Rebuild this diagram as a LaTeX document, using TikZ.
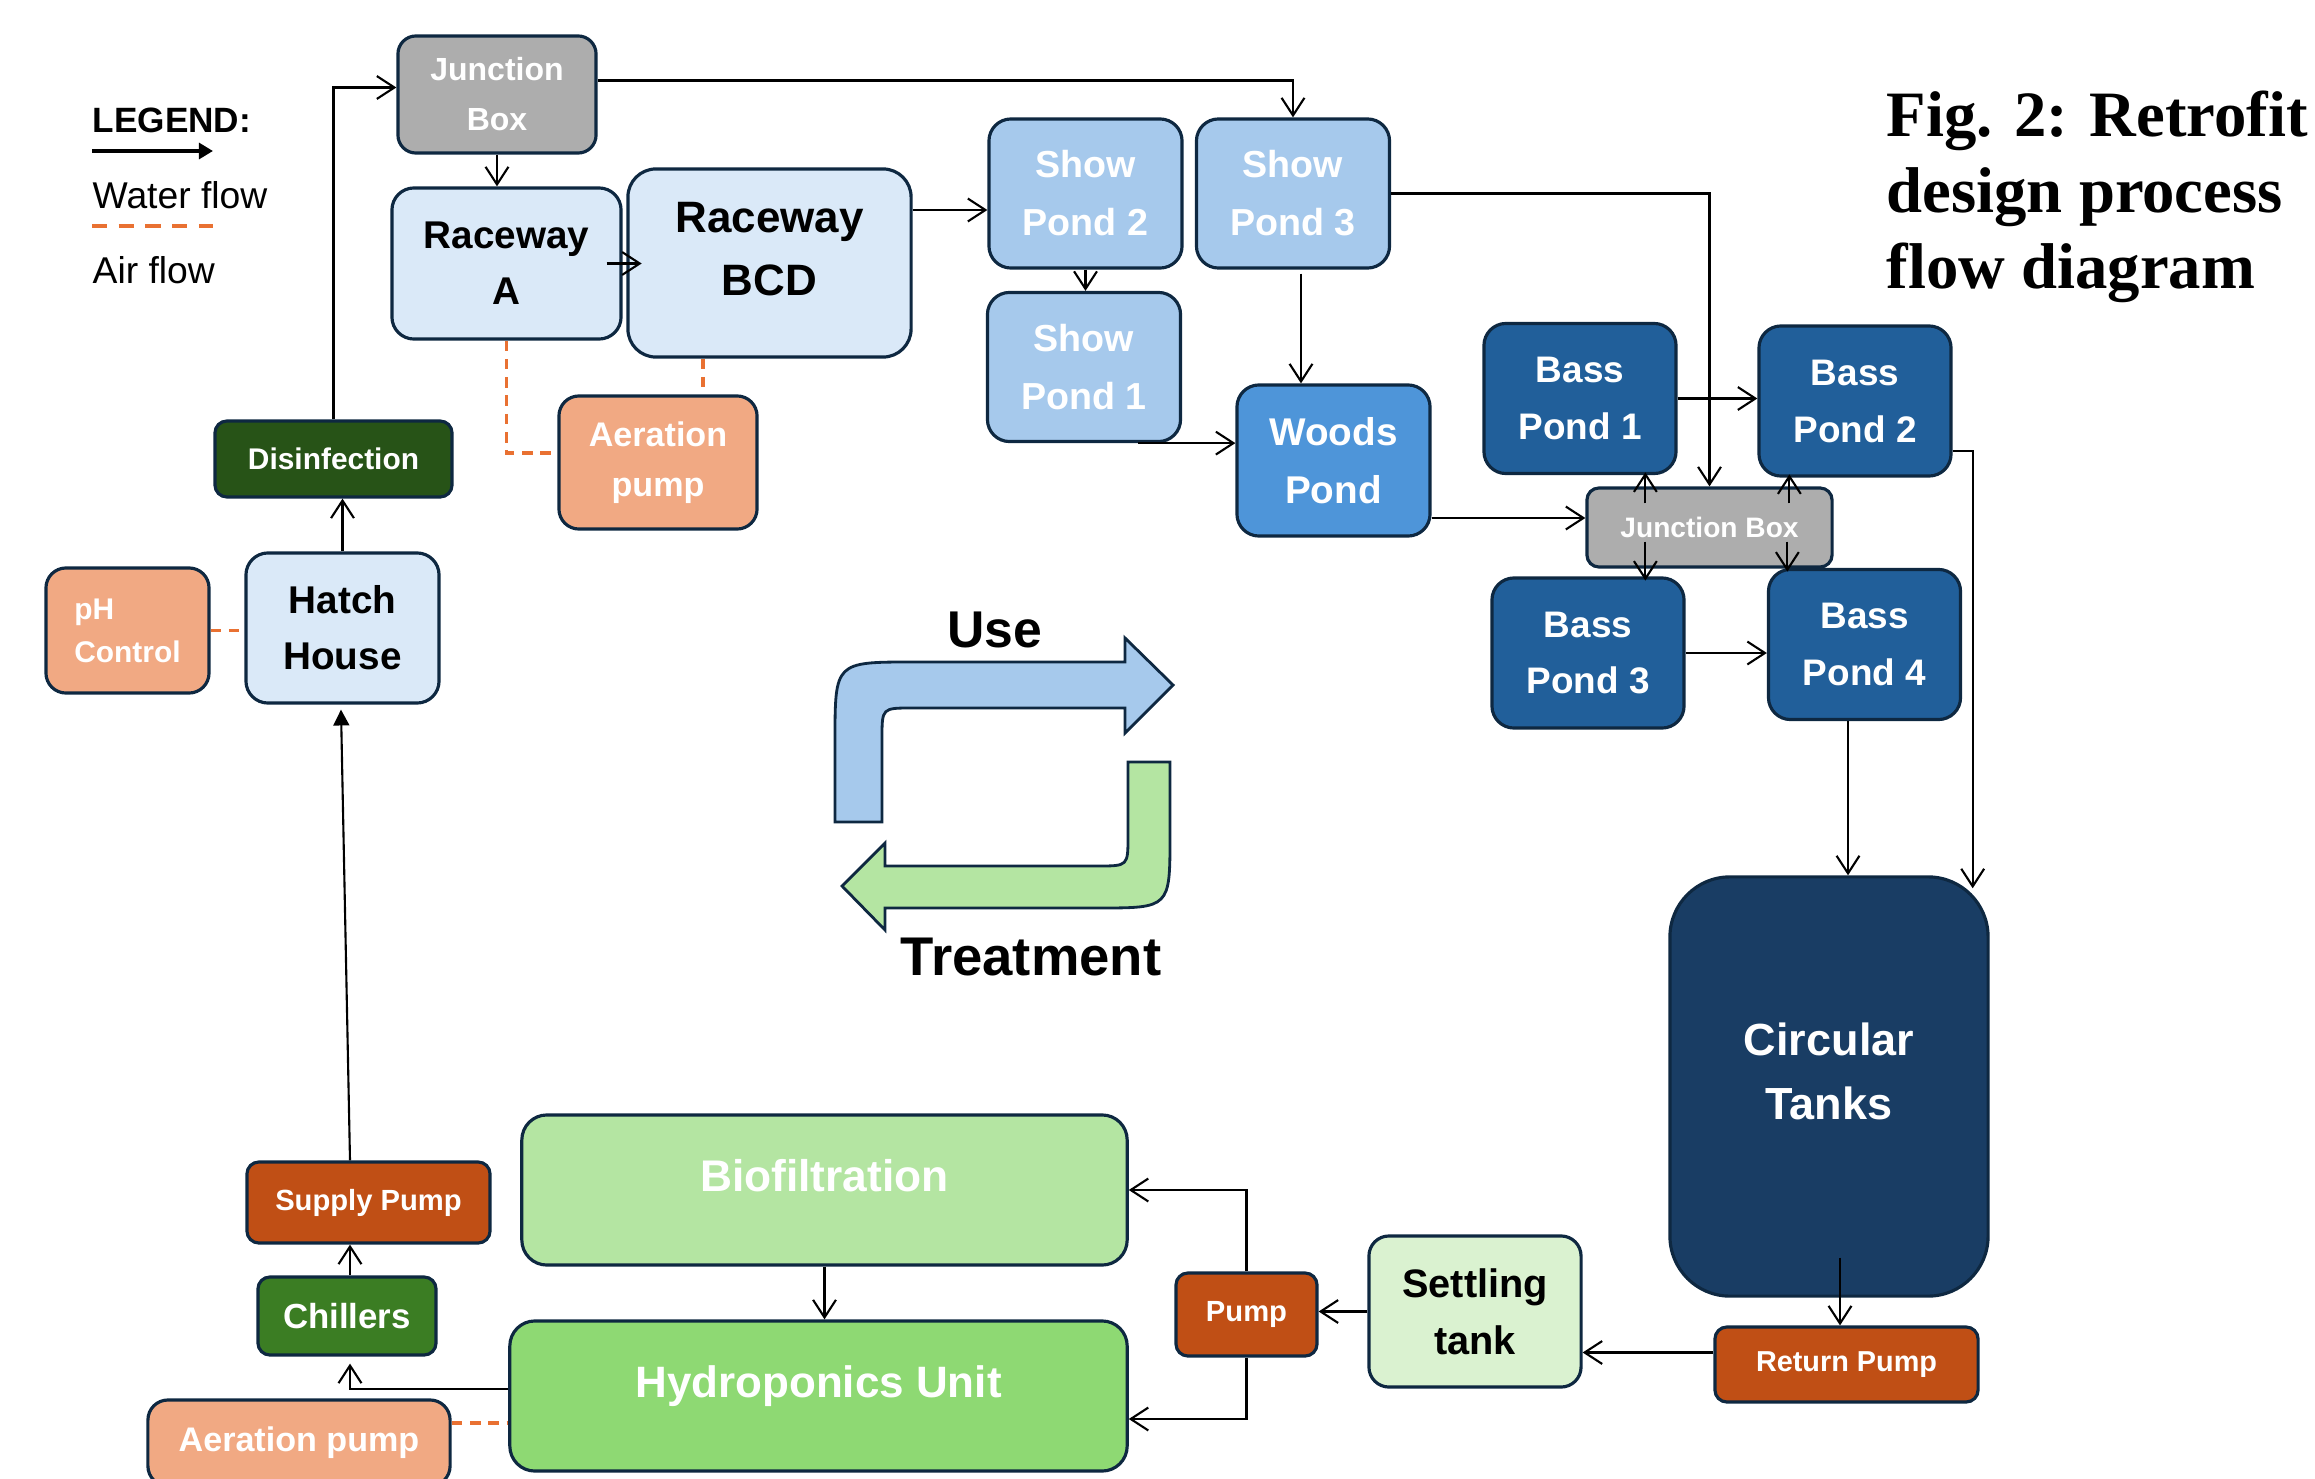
\documentclass[tikz,border=0pt]{standalone}
\usepackage{fontspec}
\setmainfont{Liberation Sans}
\newfontfamily\titlefont{Liberation Serif}
\usetikzlibrary{arrows.meta,calc}

\definecolor{edge}{HTML}{0E2841}
\definecolor{paleblue}{HTML}{DAE9F8}
\definecolor{showblue}{HTML}{A6C9EC}
\definecolor{woodblue}{HTML}{4E95D9}
\definecolor{bassblue}{HTML}{215F9A}
\definecolor{tankblue}{HTML}{193D64}
\definecolor{jgray}{HTML}{ADADAD}
\definecolor{peach}{HTML}{F1A983}
\definecolor{rust}{HTML}{C04F15}
\definecolor{pinegreen}{HTML}{275317}
\definecolor{leafgreen}{HTML}{3B7D23}
\definecolor{biogreen}{HTML}{B4E5A2}
\definecolor{hydrogreen}{HTML}{8ED973}
\definecolor{mintgreen}{HTML}{DAF2D0}
\definecolor{airorange}{HTML}{E97132}

\tikzset{
  unit/.style={draw=edge,line width=0.9pt,inner sep=0pt,align=center,text=white},
  fsz/.style 2 args={font=\fontsize{#1}{#2}\selectfont\bfseries},
  showpond/.style={unit,fill=showblue,rounded corners=.22cm,minimum width=1.93cm,minimum height=1.49cm,fsz={10.7}{16.5}},
  basspond/.style={unit,fill=bassblue,rounded corners=.22cm,minimum width=1.92cm,minimum height=1.5cm,fsz={10.5}{16.2}},
  rustpump/.style={unit,fill=rust,rounded corners=.12cm},
  flow/.style={line width=0.6pt,-{Straight Barb[length=5pt,width=6.5pt]}},
  air/.style={draw=airorange,line width=0.9pt,dash pattern=on 3pt off 2.2pt},
  turn/.style={draw=edge,line width=0.8pt}
}

\begin{document}
\begin{tikzpicture}[x=0.01cm,y=-0.01cm]
\useasboundingbox (0,0) rectangle (2315,1479);

\node[anchor=west,inner sep=0pt,font=\fontsize{10}{12}\selectfont\bfseries] (legend) at (92,120) {LEGEND:};
\node[anchor=west,inner sep=0pt,font=\fontsize{10.6}{12}\selectfont] (water) at (92,195) {Water flow};
\node[anchor=west,inner sep=0pt,font=\fontsize{10.6}{12}\selectfont] (airtxt) at (92,270) {Air flow};
\coordinate (wa) at (92,151);
\coordinate (wb) at (213,151);
\coordinate (aa) at (92,226);
\coordinate (ab) at (213,226);
\draw[line width=1pt,-{Triangle[length=4pt,width=4.5pt]}] (wa) -- (wb);
\draw[air,dash pattern=on 4.3pt off 3.3pt] (aa) -- (ab);

\node[anchor=north west,align=left,inner sep=0pt,font=\titlefont\fontsize{18.4}{21.6}\selectfont\bfseries] (title) at (1886,90) {Fig. 2: Retrofit\\design process\\flow diagram};

\node[unit,fill=jgray,rounded corners=.18cm,minimum width=1.98cm,minimum height=1.17cm,fsz={9.1}{14.2}] (jbtop) at (497,94.5) {Junction\\Box};
\node[unit,fill=paleblue,text=black,rounded corners=.22cm,minimum width=2.29cm,minimum height=1.51cm,fsz={11}{15.9}] (raceA) at (506.5,263.5) {Raceway\\A};
\node[unit,fill=paleblue,text=black,rounded corners=.28cm,minimum width=2.83cm,minimum height=1.88cm,text depth=0.28cm,fsz={12.5}{18}] (bcd) at (769.5,263) {Raceway\\BCD};
\node[unit,fill=peach,rounded corners=.2cm,minimum width=1.98cm,minimum height=1.33cm,fsz={9.7}{14.2}] (aerTop) at (658,462.5) {Aeration\\pump};
\node[unit,fill=pinegreen,rounded corners=.12cm,minimum width=2.37cm,minimum height=0.76cm,fsz={8.5}{10}] (disinf) at (333.5,459) {Disinfection};
\node[unit,fill=paleblue,text=black,rounded corners=.22cm,minimum width=1.93cm,minimum height=1.5cm,fsz={11}{16}] (hatch) at (342.5,628) {Hatch\\House};
\node[unit,fill=peach,align=left,rounded corners=.2cm,minimum width=1.63cm,minimum height=1.25cm,fsz={8.5}{12.2}] (phC) at (127.5,630.5) {pH\\Control};

\node[showpond] (sp2) at (1085.5,193.5) {Show\\Pond 2};
\node[showpond] (sp3) at (1293,193.5) {Show\\Pond 3};
\node[showpond] (sp1) at (1084,367) {Show\\Pond 1};
\node[unit,fill=woodblue,rounded corners=.22cm,minimum width=1.93cm,minimum height=1.51cm,fsz={11}{16.5}] (woods) at (1333.5,460.5) {Woods\\Pond};

\node[basspond] (bp1) at (1580,398.5) {Bass\\Pond 1};
\node[basspond] (bp2) at (1855,401) {Bass\\Pond 2};
\node[basspond] (bp3) at (1588,653) {Bass\\Pond 3};
\node[basspond] (bp4) at (1864.5,644.5) {Bass\\Pond 4};
\node[unit,fill=jgray,rounded corners=.12cm,minimum width=2.45cm,minimum height=0.79cm,fsz={8}{10}] (jbmid) at (1709.5,527.5) {Junction Box};

\node[unit,fill=tankblue,rounded corners=.6cm,minimum width=3.18cm,minimum height=4.19cm,text depth=0.3cm,fsz={12.8}{18.1}] (ct) at (1829,1086.5) {Circular\\Tanks};
\node[rustpump,minimum width=2.63cm,minimum height=0.75cm,fsz={8.2}{10}] (rp) at (1846.5,1364.5) {Return Pump};
\node[unit,fill=mintgreen,text=black,rounded corners=.2cm,minimum width=2.12cm,minimum height=1.51cm,fsz={11.3}{16.2}] (st) at (1475,1311.5) {Settling\\tank};
\node[rustpump,minimum width=1.41cm,minimum height=0.83cm,fsz={8.3}{10}] (pump) at (1246.5,1314.5) {Pump};
\node[unit,fill=biogreen,rounded corners=.25cm,minimum width=6.05cm,minimum height=1.5cm,text depth=0.3cm,fsz={12.6}{15}] (bio) at (824.5,1190) {Biofiltration};
\node[unit,fill=hydrogreen,rounded corners=.25cm,minimum width=6.17cm,minimum height=1.5cm,text depth=0.29cm,fsz={12.5}{15}] (hydro) at (818.5,1396) {Hydroponics Unit};
\node[unit,fill=peach,rounded corners=.2cm,minimum width=3.02cm,minimum height=0.86cm,fsz={9.7}{12}] (aerBot) at (299,1443) {Aeration pump};
\node[unit,fill=leafgreen,rounded corners=.12cm,minimum width=1.78cm,minimum height=0.78cm,fsz={9.9}{12}] (chill) at (347,1316) {Chillers};
\node[rustpump,minimum width=2.43cm,minimum height=0.81cm,fsz={8.3}{10}] (sup) at (368.5,1202.5) {Supply Pump};

\draw[turn,fill=showblue] (835,822) -- (835,740) .. controls (835,662) .. (913,662) -- (1125,662) -- (1125,638) -- (1173,685) -- (1125,733) -- (1125,708) -- (912,708) .. controls (882,708) .. (882,738) -- (882,822) -- cycle;
\draw[turn,fill=biogreen] (1128,762) -- (1170,762) -- (1170,836) .. controls (1170,908) .. (1098,908) -- (885,908) -- (885,930) -- (842,886) -- (885,843) -- (885,866) -- (1098,866) .. controls (1128,866) .. (1128,836) -- cycle;
\node[font=\fontsize{14.7}{16}\selectfont\bfseries] (use) at (995,630) {Use};
\node[font=\fontsize{15.5}{17}\selectfont\bfseries] (treat) at (1031,957) {Treatment};

\draw[flow] (disinf.north) |- ($(jbtop.west)+(0,-7)$);
\draw[flow] (jbtop.south) -- (jbtop.south |- raceA.north);
\draw[flow] ($(raceA.east)+(-16,0)$) -- ($(raceA.east)+(19,0)$);
\draw[flow] ($(jbtop.east)+(0,-14)$) -| (sp3.north);
\draw[flow] ($(bcd.east)+(0,-53)$) -- ($(sp2.west)+(0,16.5)$);
\draw[flow] (sp2.south) -- (sp2.south |- sp1.north);
\draw[flow] ($(sp1.south)+(54,0)$) -- (sp1.south -| woods.west);
\draw[flow] ($(sp3.south)+(8,4)$) -- ($(woods.north)+(-32.5,0)$);
\draw[flow] ($(woods.east)+(0,57.5)$) -- ($(jbmid.west)+(0,-9.5)$);
\draw[flow] (sp3.east) -| (jbmid.north);
\draw[flow] (bp1.east) -- (bp1.east -| bp2.west);
\draw[flow] ($(jbmid.north west)+(60,17)$) -- ($(jbmid.north west)+(60,-14)$);
\draw[flow] ($(jbmid.north west)+(204,17)$) -- ($(jbmid.north west)+(204,-12)$);
\draw[flow] ($(jbmid.south west)+(60,-27)$) -- ($(jbmid.south west)+(60,12)$);
\draw[flow] ($(jbmid.south west)+(202,-27)$) -- ($(jbmid.south west)+(202,3)$);
\draw[flow] ($(bp2.east)+(0,50)$) -| ($(ct.north east)+(-17,13)$);
\draw[flow] (bp3.east) -- (bp3.east -| bp4.west);
\draw[flow] ($(bp4.south)+(-16.5,0)$) -- ($(ct.north)+(19,0)$);
\draw[flow] ($(ct.south)+(11,-40)$) -- ($(rp.north)+(-6.5,0)$);
\draw[flow] ($(rp.west)+(0,-12)$) -- ($(st.east)+(0,41)$);
\draw[flow] (st.west) -- (st.west -| pump.east);
\draw[flow] (pump.north) |- (bio.east);
\draw[flow] (pump.south) |- ($(hydro.east)+(0,23)$);
\draw[flow] (bio.south) -- (bio.south |- hydro.north);
\draw[flow] ($(hydro.west)+(0,-7)$) -| ($(chill.south)+(3,7)$);
\draw[flow] ($(chill.north)+(3,0)$) -- ($(sup.south)+(-18.5,0)$);
\draw[line width=0.6pt,-{Triangle[length=4.5pt,width=4.5pt]}] ($(sup.north)+(-18.5,0)$) -- ($(hatch.south)+(-1.5,5)$);
\draw[flow] (hatch.north) -- (hatch.north |- disinf.south);

\draw[air] (raceA.south) |- ($(aerTop.west)+(0,-9.5)$);
\draw[air] ($(bcd.south)+(-66.5,0)$) -- ($(aerTop.north)+(45,0)$);
\draw[air] (phC.east) -- (phC.east -| hatch.west);
\draw[air] ($(aerBot.east)+(0,-20)$) -- ($(hydro.west)+(0,27)$);
\end{tikzpicture}
\end{document}
